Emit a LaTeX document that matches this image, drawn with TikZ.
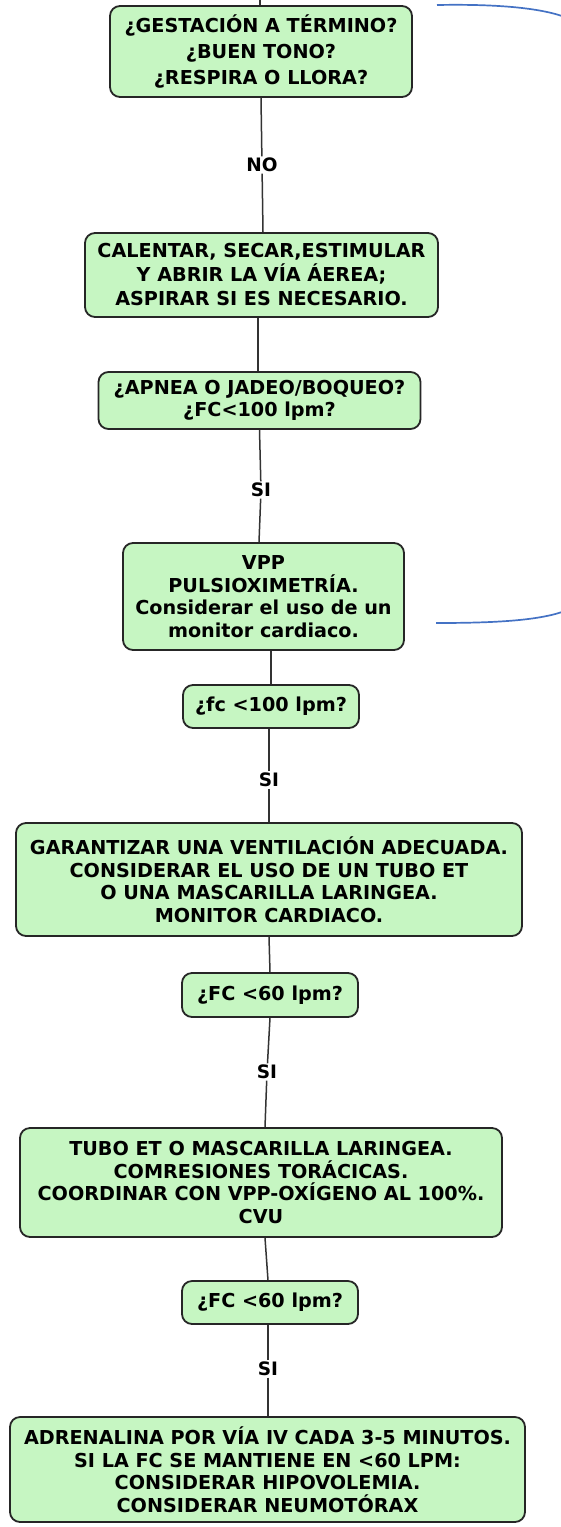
\documentclass[tikz,border=0pt]{standalone}
\usepackage{fontspec}
\setmainfont{DejaVu Sans}
\definecolor{boxfill}{HTML}{C6F6C2}
\definecolor{boxline}{HTML}{262626}
\definecolor{linkblue}{HTML}{4472C4}
\begin{document}
\begin{tikzpicture}[x=1pt,y=-1pt,
  box/.style={draw=boxline, fill=boxfill, line width=1.8pt, rounded corners=10pt,
    align=center, inner sep=0pt, text=black,
    font=\bfseries\fontsize{19.2}{22.5}\selectfont},
  lbl/.style={fill=white, inner sep=1.5pt, text=black,
    font=\bfseries\fontsize{18.5}{20}\selectfont},
  conn/.style={draw=black!80, line width=1.5pt},
  bluelink/.style={draw=linkblue, line width=1.7pt}]
\useasboundingbox (0,0) rectangle (560,1527);

\node[box, minimum width=302pt, minimum height=91pt,
  font=\bfseries\fontsize{19.2}{26}\selectfont] (b1) at (261,51.5)
  {¿GESTACIÓN A TÉRMINO?\\¿BUEN TONO?\\¿RESPIRA O LLORA?};
\node[box, minimum width=353pt, minimum height=84pt,
  font=\bfseries\fontsize{19.2}{24}\selectfont] (b2) at (261.5,275)
  {CALENTAR, SECAR,ESTIMULAR\\Y ABRIR LA VÍA ÁEREA;\\ASPIRAR SI ES NECESARIO.};
\node[box, minimum width=322pt, minimum height=57pt] (b3) at (259.5,400.5)
  {¿APNEA O JADEO/BOQUEO?\\¿FC<100 lpm?};
\node[box, minimum width=281pt, minimum height=107pt] (b4) at (263.5,596.5)
  {VPP\\PULSIOXIMETRÍA.\\Considerar el uso de un\\monitor cardiaco.};
\node[box, minimum width=176pt, minimum height=43pt] (b5) at (271,706.5)
  {¿fc <100 lpm?};
\node[box, minimum width=506pt, minimum height=113pt] (b6) at (269,879.5)
  {GARANTIZAR UNA VENTILACIÓN ADECUADA.\\CONSIDERAR EL USO DE UN TUBO ET\\O UNA MASCARILLA LARINGEA.\\MONITOR CARDIACO.};
\node[box, minimum width=176pt, minimum height=44pt] (b7) at (270,995)
  {¿FC <60 lpm?};
\node[box, minimum width=482pt, minimum height=109pt] (b8) at (261,1182.5)
  {TUBO ET O MASCARILLA LARINGEA.\\COMRESIONES TORÁCICAS.\\COORDINAR CON VPP-OXÍGENO AL 100\%.\\CVU};
\node[box, minimum width=176pt, minimum height=43pt] (b9) at (270,1302.5)
  {¿FC <60 lpm?};
\node[box, minimum width=515pt, minimum height=105pt] (b10) at (267.5,1469.5)
  {ADRENALINA POR VÍA IV CADA 3-5 MINUTOS.\\SI LA FC SE MANTIENE EN <60 LPM:\\CONSIDERAR HIPOVOLEMIA.\\CONSIDERAR NEUMOTÓRAX};

\node[lbl] (no) at (262,165) {NO};
\node[lbl] (si1) at (261,490) {SI};
\node[lbl] (si2) at (269,780) {SI};
\node[lbl] (si3) at (267,1072) {SI};
\node[lbl] (si4) at (268,1369) {SI};

\coordinate (top) at (260,0);
\draw[conn] (top) -- ([xshift=-1pt]b1.north);
\draw[conn] (b1.south) -- (no) -- ([xshift=1.5pt]b2.north);
\draw[conn] ([xshift=-3.5pt]b2.south) -- ([xshift=-1.5pt]b3.north);
\draw[conn] (b3.south) -- (si1) -- ([xshift=-4.5pt]b4.north);
\draw[conn] ([xshift=7.5pt]b4.south) -- (b5.north);
\draw[conn] ([xshift=-2pt]b5.south) -- (si2) -- (b6.north);
\draw[conn] (b6.south) -- (b7.north);
\draw[conn] (b7.south) -- (si3) -- ([xshift=4pt]b8.north);
\draw[conn] ([xshift=4pt]b8.south) -- ([xshift=-2pt]b9.north);
\draw[conn] ([xshift=-2pt]b9.south) -- (si4) -- ([xshift=0.5pt]b10.north);

\coordinate (u1) at (437,5);
\coordinate (u1e) at (562,16);
\draw[bluelink] (u1) .. controls (490,4) and (535,7) .. (u1e);
\coordinate (u2) at (436,623);
\coordinate (u2e) at (562,612);
\draw[bluelink] (u2) .. controls (490,623) and (535,621) .. (u2e);
\end{tikzpicture}
\end{document}
